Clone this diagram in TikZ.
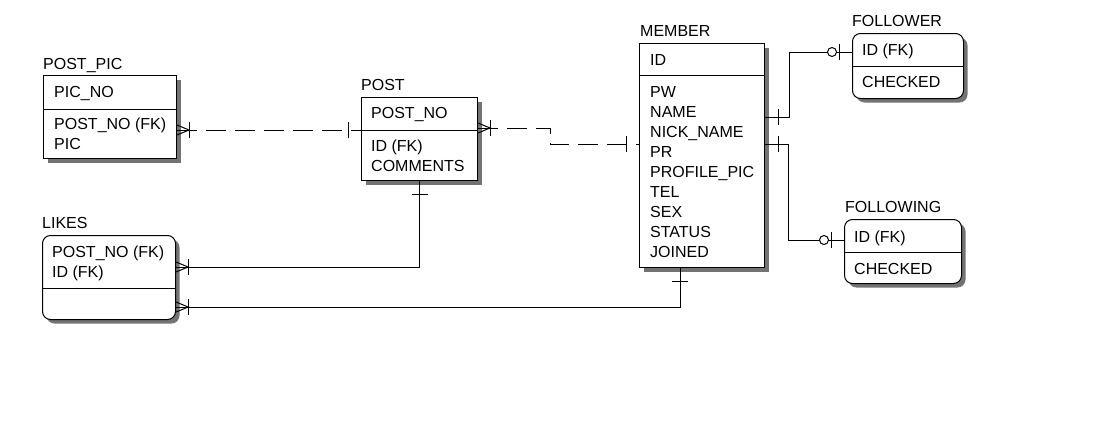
\documentclass[tikz,border=0pt]{standalone}
\usepackage{fontspec}
\setmainfont{Liberation Sans}
\usetikzlibrary{shadows,decorations.markings}

\begin{document}
\begin{tikzpicture}[x=1pt, y=-1pt, font=\fontsize{16}{20}\selectfont,
  entity/.style={draw, line width=1pt, fill=white, anchor=north west, inner sep=0pt,
    drop shadow={shadow xshift=4pt, shadow yshift=-4pt, fill=black!55, opacity=1}},
  weak/.style={entity, rounded corners=8pt},
  title/.style={anchor=base west, inner sep=0pt},
  field/.style={anchor=base west, inner sep=0pt, align=left},
  rel/.style={line width=1pt},
  ident/.style={rel, dash pattern=on 20pt off 9pt},
  one start/.style={postaction={decorate, decoration={markings,
    mark=at position 13pt with {\draw[solid] (0,-8pt) -- (0,8pt);}}}},
  one end/.style={postaction={decorate, decoration={markings,
    mark=at position -13pt with {\draw[solid] (0,-8pt) -- (0,8pt);}}}},
  many start/.style={postaction={decorate, decoration={markings,
    mark=at position 0pt with {\draw[solid] (0,-5pt) -- (12pt,0) -- (0,5pt);
      \draw[solid] (12pt,-8pt) -- (12pt,8pt);}}}},
  many end/.style={postaction={decorate, decoration={markings,
    mark=at position 0.9999 with {\draw[solid] (0,-5pt) -- (-12pt,0) -- (0,5pt);
      \draw[solid] (-12pt,-8pt) -- (-12pt,8pt);}}}},
  zero one end/.style={postaction={decorate, decoration={markings,
    mark=at position -13pt with {\draw[solid] (0,-8pt) -- (0,8pt);},
    mark=at position -20pt with {\draw[solid, fill=white] (0,0) circle (4.5pt);}}}}]
\useasboundingbox (0,0) rectangle (1119,431);

% POST_PIC
\node[entity, minimum width=133pt, minimum height=83pt] (postpic) at (43,75) {};
\draw[rel] (postpic.west |- 0,109) -- (postpic.east |- 0,109);
\node[title] (postpic-t) at (43,69) {POST\_PIC};
\node[field] (postpic-k) at (54,97) {PIC\_NO};
\node[field] (postpic-a) at (54,149) {POST\_NO (FK)\\PIC};

% POST
\node[entity, minimum width=116pt, minimum height=83pt] (post) at (361,97) {};
\draw[rel] (post.west |- 0,130) -- (post.east |- 0,130);
\node[title] (post-t) at (361,90) {POST};
\node[field] (post-k) at (371,118) {POST\_NO};
\node[field] (post-a) at (371,171) {ID (FK)\\COMMENTS};

% MEMBER
\node[entity, minimum width=125pt, minimum height=224pt] (member) at (639,43) {};
\draw[rel] (member.west |- 0,75) -- (member.east |- 0,75);
\node[title] (member-t) at (640,36) {MEMBER};
\node[field] (member-k) at (650,65) {ID};
\node[field] (member-a) at (650,257) {PW\\NAME\\NICK\_NAME\\PR\\PROFILE\_PIC\\TEL\\SEX\\STATUS\\JOINED};

% FOLLOWER
\node[weak, minimum width=111pt, minimum height=65pt] (follower) at (852,33) {};
\draw[rel] (follower.west |- 0,66) -- (follower.east |- 0,66);
\node[title] (follower-t) at (852,26) {FOLLOWER};
\node[field] (follower-k) at (862,55) {ID (FK)};
\node[field] (follower-a) at (862,87) {CHECKED};

% FOLLOWING
\node[weak, minimum width=117pt, minimum height=64pt] (following) at (844,219) {};
\draw[rel] (following.west |- 0,252) -- (following.east |- 0,252);
\node[title] (following-t) at (845,212) {FOLLOWING};
\node[field] (following-k) at (854,242) {ID (FK)};
\node[field] (following-a) at (854,274) {CHECKED};

% LIKES
\node[weak, minimum width=133pt, minimum height=84pt] (likes) at (42,235) {};
\draw[rel] (likes.west |- 0,288) -- (likes.east |- 0,288);
\node[title] (likes-t) at (42,228) {LIKES};
\node[field] (likes-k) at (52,277) {POST\_NO (FK)\\ID (FK)};

% Relationships
\draw[ident, many start, one end] (postpic.east |- 0,130) -- (post.west |- 0,130);
\draw[ident, many start, one end] (post.east |- 0,128) -- (550,128) |- (member.west |- 0,144);
\draw[rel, one start, zero one end] (member.east |- 0,117) -- (789,117) |- (follower.west |- 0,52);
\draw[rel, one start, zero one end] (member.east |- 0,144) -- (788,144) |- (following.west |- 0,240);
\draw[rel, one start, many end] (post.south) |- (likes.east |- 0,267);
\draw[rel, one start, many end] (member.south -| 680,0) |- (likes.east |- 0,307);
\end{tikzpicture}
\end{document}
